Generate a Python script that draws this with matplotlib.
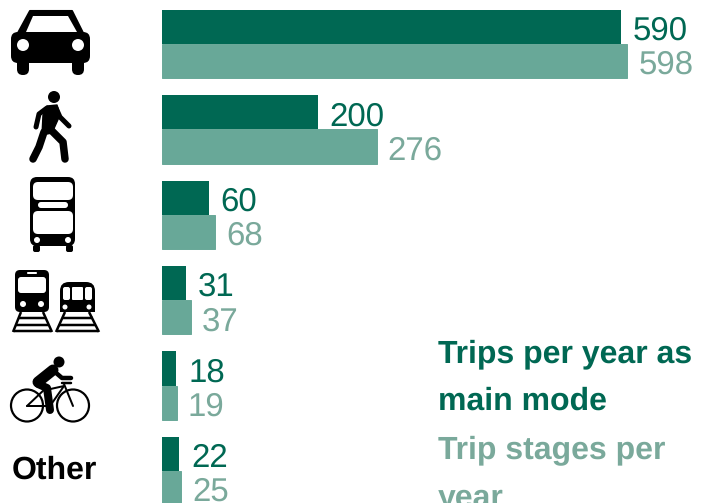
import matplotlib
matplotlib.use('Agg')
import matplotlib.pyplot as plt
from matplotlib.patches import Circle, FancyBboxPatch, Polygon, Rectangle
import numpy as np

plt.rcParams['font.family'] = ['Liberation Sans', 'DejaVu Sans']
plt.rcParams['text.hinting'] = 'none'
plt.rcParams['text.hinting_factor'] = 1

# Data
modes = ['Car', 'Walk', 'Bus', 'Rail', 'Cycle', 'Other']
main_mode = [590, 200, 60, 31, 18, 22]
trip_stages = [598, 276, 68, 37, 19, 25]

DARK = '#006853'
LIGHT = '#68a898'
LIGHT_TEXT = '#7aa99b'
PX = 0.72  # one pixel in points at dpi 100

fig = plt.figure(figsize=(7.02, 5.03), dpi=100)

# Bars
ax = fig.add_axes([0, 0, 1, 1])
y = np.arange(len(modes))
ax.barh(y - 0.2, main_mode, height=0.4, color=DARK)
ax.barh(y + 0.2, trip_stages, height=0.4, color=LIGHT, edgecolor=LIGHT, linewidth=0.7)
ax.set_xlim(-208.2, 694.1)
ax.set_ylim(5.375, -0.515)
ax.axis('off')

for i in y:
    ax.annotate(str(main_mode[i]), (main_mode[i], i - 0.2), xytext=(12 * PX, -4.5 * PX),
                textcoords='offset points', color=DARK, fontsize=24, va='center')
    ax.annotate(str(trip_stages[i]), (trip_stages[i], i + 0.2), xytext=(11 * PX, -4.5 * PX),
                textcoords='offset points', color=LIGHT_TEXT, fontsize=24, va='center')

# Icons, drawn in pixel space
icons = fig.add_axes([0, 0, 1, 1])
icons.set_xlim(0, 702)
icons.set_ylim(503, 0)
icons.axis('off')
icons.patch.set_alpha(0)


def line(pts, w, color='black', cap='round'):
    xs, ys = zip(*pts)
    icons.plot(xs, ys, color=color, lw=w * PX, solid_capstyle=cap, solid_joinstyle='round')


def rbox(x0, y0, x1, y1, r, color='black'):
    icons.add_patch(FancyBboxPatch((x0 + r, y0 + r), x1 - x0 - 2 * r, y1 - y0 - 2 * r,
                                   boxstyle='round,pad=%g' % r, fc=color, ec='none'))


def dot(x, y, r, color='black'):
    icons.add_patch(Circle((x, y), r, fc=color, ec='none'))


# car
icons.add_patch(Polygon([(30, 11), (72, 11), (83, 33), (18, 33)], fc='black', ec='black', lw=1.5, joinstyle='round'))
rbox(11, 32, 90, 63, 7)
rbox(17, 55, 29, 75, 5.8)
rbox(72, 55, 84, 75, 5.8)
icons.add_patch(Polygon([(33, 16), (68, 16), (77, 32), (26, 32)], fc='white', ec='none'))
dot(23, 45, 6, 'white')
dot(78, 45, 6, 'white')

# walker
dot(54, 97, 6)
icons.add_patch(Polygon([(47, 106), (57, 105), (60, 115), (52, 133), (42, 135), (43, 115)],
                        fc='black', ec='black', lw=1, joinstyle='round'))
line([(47, 108), (39, 114), (36, 127)], 5)
line([(56, 108), (60, 117), (69, 126)], 5)
line([(44, 132), (39, 147), (33, 159)], 7.5)
line([(49, 128), (63, 142), (65, 159)], 7.5)

# bus
rbox(33, 245, 40, 252, 2)
rbox(66, 245, 73, 252, 2)
rbox(30, 177, 75, 246, 7)
rbox(33, 182, 73, 200, 5, 'white')
rbox(38, 202, 68, 208, 3, 'white')
rbox(33, 211, 73, 234, 5, 'white')
dot(37, 240, 3, 'white')
dot(68, 240, 3, 'white')

# trains
rbox(15, 270, 49, 312, 5)
rbox(18, 277, 46, 293, 3, 'white')
rbox(27, 272, 37, 274, 1, 'white')
dot(23, 304, 3, 'white')
dot(41, 304, 3, 'white')
line([(21, 312), (13, 332)], 2.5, cap='butt')
line([(43, 312), (52, 332)], 2.5, cap='butt')
for yy, x0, x1 in [(318, 19, 45), (325, 16, 48), (331, 14, 51)]:
    line([(x0, yy), (x1, yy)], 2.5, cap='butt')

rbox(60, 282, 95, 312, 9)
icons.add_patch(Rectangle((60, 298), 35, 14, fc='black', ec='none'))
rbox(63, 287, 70, 300, 2, 'white')
rbox(72, 287, 83, 300, 1, 'white')
rbox(85, 287, 92, 300, 2, 'white')
dot(65, 307, 2.5, 'white')
dot(89, 307, 2.5, 'white')
line([(65, 312), (56, 332)], 2.5, cap='butt')
line([(89, 312), (99, 332)], 2.5, cap='butt')
for yy, x0, x1 in [(318, 62, 93), (325, 59, 96), (331, 57, 98)]:
    line([(x0, yy), (x1, yy)], 2.5, cap='butt')

# cyclist
for cx in (27, 73):
    icons.add_patch(Circle((cx, 405.5), 16, fc='none', ec='black', lw=2.2 * PX))
dot(59, 362, 5.5)
line([(38, 382), (53, 370)], 11)
line([(55, 372), (62, 378), (71, 378)], 4.5)
line([(38, 384), (47, 388), (50, 410)], 8)
line([(27, 406), (46, 388), (50, 406), (64, 386), (46, 390)], 2)
line([(27, 406), (50, 406)], 2)
line([(64, 384), (73, 406)], 2)
line([(62, 383), (71, 383)], 2.5)

# Other label
icons.text(12, 467, 'Other', fontsize=23, fontweight='bold', color='black', va='center_baseline', ha='left')

# Legend text
icons.text(438, 362, 'Trips per year as', fontsize=23, fontweight='bold', color=DARK)
icons.text(438, 410, 'main mode', fontsize=23, fontweight='bold', color=DARK)
icons.text(438, 458, 'Trip stages per', fontsize=23, fontweight='bold', color=LIGHT_TEXT)
icons.text(438, 506, 'year', fontsize=23, fontweight='bold', color=LIGHT_TEXT)

fig.savefig('out.png', dpi=100)
